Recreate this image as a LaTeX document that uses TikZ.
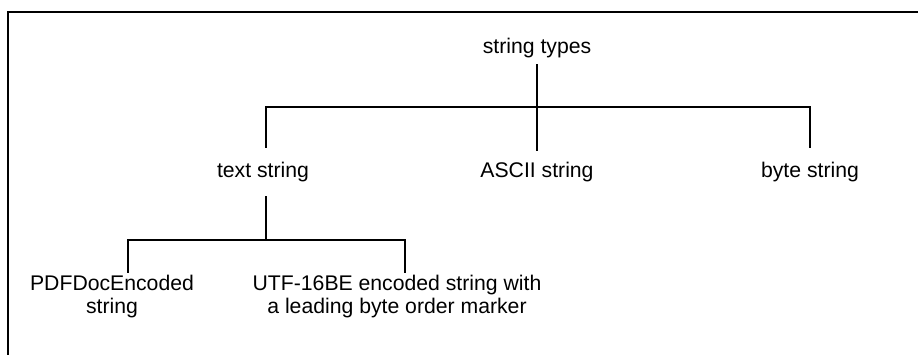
\documentclass[tikz,border=0pt]{standalone}
\usepackage{fontspec}
\setmainfont{Liberation Sans}
\begin{document}
\begin{tikzpicture}[x=1pt,y=-1pt,
  lbl/.style={inner sep=0pt,outer sep=0pt,font=\fontsize{21.2}{23.5}\selectfont,align=center},
  edge/.style={line width=2.3pt,line cap=rect}]
\useasboundingbox (0,0) rectangle (918,354);
% frame (top and left edges visible)
\draw[line width=2.6pt] (8,360) -- (8,12) -- (925,12);
% nodes
\node[lbl,anchor=base] (root) at (537,53) {string types};
\node[lbl,anchor=base] (ts) at (263,177) {text string};
\node[lbl,anchor=base] (ascii) at (537,177) {ASCII string};
\node[lbl,anchor=base] (bs) at (810,177) {byte string};
\node[lbl,anchor=north] (pdf) at (112,275) {PDFDocEncoded\\string};
\node[lbl,anchor=north] (utf) at (397,275) {UTF-16BE encoded string with\\a leading byte order marker};
% junctions
\coordinate (bar1) at (537,107);
\coordinate (bar2) at (266,240);
% connectors
\draw[edge] ([yshift=-8pt]root.south) -- (bar1);
\draw[edge] ([xshift=3pt,yshift=15pt]ts.north) |- (bar1);
\draw[edge] ([yshift=12pt]ascii.north) -- (bar1);
\draw[edge] ([yshift=15pt]bs.north) |- (bar1);
\draw[edge] ([xshift=3pt,yshift=-16pt]ts.south) -- (bar2);
\draw[edge] ([xshift=16pt,yshift=3pt]pdf.north) |- (bar2);
\draw[edge] (utf.north -| 405,0) ++(0,-3) |- (bar2);
\end{tikzpicture}
\end{document}
